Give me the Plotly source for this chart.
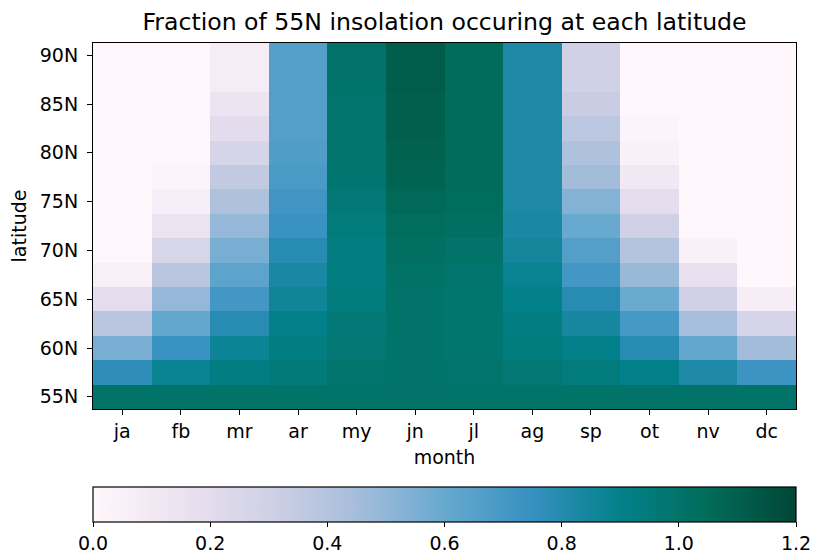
import plotly.graph_objects as go

months = ["ja", "fb", "mr", "ar", "my", "jn", "jl", "ag", "sp", "ot", "nv", "dc"]
latitudes = [55, 57.5, 60, 62.5, 65, 67.5, 70, 72.5, 75, 77.5, 80, 82.5, 85, 87.5, 90]
lat_ticks = [55, 60, 65, 70, 75, 80, 85, 90]
lat_labels = ["55N", "60N", "65N", "70N", "75N", "80N", "85N", "90N"]
cbar_ticks = [0, 0.2, 0.4, 0.6, 0.8, 1.0, 1.2]
cbar_labels = ["0.0", "0.2", "0.4", "0.6", "0.8", "1.0", "1.2"]

# fraction of 55N insolation, per month, from 55N (first) to 90N (last)
ja = [1.0, 0.77, 0.56, 0.38, 0.19, 0.05, 0.005, 0, 0, 0, 0, 0, 0, 0, 0]
fb = [1.0, 0.88, 0.74, 0.61, 0.49, 0.38, 0.26, 0.15, 0.06, 0.02, 0.008, 0, 0, 0, 0]
mr = [1.0, 0.92, 0.87, 0.79, 0.71, 0.63, 0.56, 0.49, 0.42, 0.35, 0.27, 0.20, 0.14, 0.08, 0.08]
ar = [1.0, 0.95, 0.93, 0.90, 0.86, 0.83, 0.79, 0.74, 0.72, 0.69, 0.67, 0.66, 0.66, 0.66, 0.66]
my = [1.0, 0.99, 0.97, 0.96, 0.94, 0.93, 0.93, 0.94, 0.96, 0.98, 0.99, 0.99, 0.99, 1.0, 1.0]
jn = [1.0, 1.0, 1.0, 1.0, 1.0, 1.01, 1.02, 1.04, 1.06, 1.08, 1.09, 1.10, 1.10, 1.11, 1.11]
jl = [1.0, 0.99, 0.98, 0.98, 0.98, 0.99, 1.0, 1.02, 1.04, 1.05, 1.05, 1.05, 1.05, 1.05, 1.05]
ag = [1.0, 0.97, 0.94, 0.92, 0.90, 0.88, 0.85, 0.83, 0.82, 0.82, 0.82, 0.82, 0.82, 0.82, 0.82]
sp = [1.0, 0.94, 0.90, 0.84, 0.79, 0.71, 0.66, 0.60, 0.53, 0.46, 0.42, 0.37, 0.33, 0.30, 0.30]
ot = [1.0, 0.90, 0.79, 0.70, 0.59, 0.48, 0.40, 0.30, 0.19, 0.11, 0.04, 0.02, 0, 0, 0]
nv = [1.0, 0.82, 0.62, 0.45, 0.30, 0.17, 0.04, 0.005, 0, 0, 0, 0, 0, 0, 0]
dc = [1.0, 0.73, 0.46, 0.27, 0.07, 0, 0, 0, 0, 0, 0, 0, 0, 0, 0]

columns = [ja, fb, mr, ar, my, jn, jl, ag, sp, ot, nv, dc]
z = [list(row) for row in zip(*columns)]

pubugn = [
    [0.0, "#fff7fb"], [0.125, "#ece2f0"], [0.25, "#d0d1e6"], [0.375, "#a6bddb"],
    [0.5, "#67a9cf"], [0.625, "#3690c0"], [0.75, "#02818a"], [0.875, "#016c59"],
    [1.0, "#014636"],
]

font_family = "DejaVu Sans"
tick_size = 19
title_size = 23.6

fig = go.Figure(
    go.Heatmap(
        x=months,
        y=latitudes,
        z=z,
        zmin=0,
        zmax=1.2,
        colorscale=pubugn,
        colorbar=dict(
            orientation="h",
            x=0.5,
            xanchor="center",
            yref="container",
            y=(556 - 487) / 556,
            yanchor="top",
            len=1.0,
            lenmode="fraction",
            thickness=35,
            thicknessmode="pixels",
            xpad=0,
            ypad=0,
            outlinewidth=1.2,
            outlinecolor="black",
            tickmode="array",
            tickvals=cbar_ticks,
            ticktext=cbar_labels,
            ticks="outside",
            ticklen=5,
            tickcolor="black",
            tickfont=dict(family=font_family, size=tick_size, color="black"),
        ),
    )
)

fig.update_layout(
    width=813,
    height=556,
    margin=dict(l=93, r=17, t=43, b=147, pad=0),
    plot_bgcolor="white",
    paper_bgcolor="white",
    font=dict(family=font_family, size=tick_size, color="black"),
    title=dict(
        text="Fraction of 55N insolation occuring at each latitude",
        x=(93 + 796) / 2 / 813,
        xref="container",
        xanchor="center",
        yref="container",
        y=1 - 22 / 556,
        yanchor="middle",
        font=dict(family=font_family, size=title_size, color="black"),
        automargin=False,
    ),
    xaxis=dict(
        title=dict(text="month", font=dict(size=tick_size), standoff=9),
        range=[-0.5, 11.5],
        showline=True,
        linecolor="black",
        linewidth=1.2,
        mirror=True,
        ticks="outside",
        ticklen=5,
        tickcolor="black",
        showgrid=False,
        zeroline=False,
        automargin=False,
        tickfont=dict(size=tick_size),
    ),
    yaxis=dict(
        title=dict(text="latitude", font=dict(size=tick_size), standoff=8),
        range=[53.75, 91.25],
        tickmode="array",
        tickvals=lat_ticks,
        ticktext=lat_labels,
        showline=True,
        linecolor="black",
        linewidth=1.2,
        mirror=True,
        ticks="outside",
        ticklen=5,
        ticklabelstandoff=5,
        tickcolor="black",
        showgrid=False,
        zeroline=False,
        automargin=False,
        tickfont=dict(size=tick_size),
    ),
)

fig.write_html(
    "out.html",
    config={"displayModeBar": False},
    post_script="document.body.style.margin='0';document.body.style.padding='0';",
)
